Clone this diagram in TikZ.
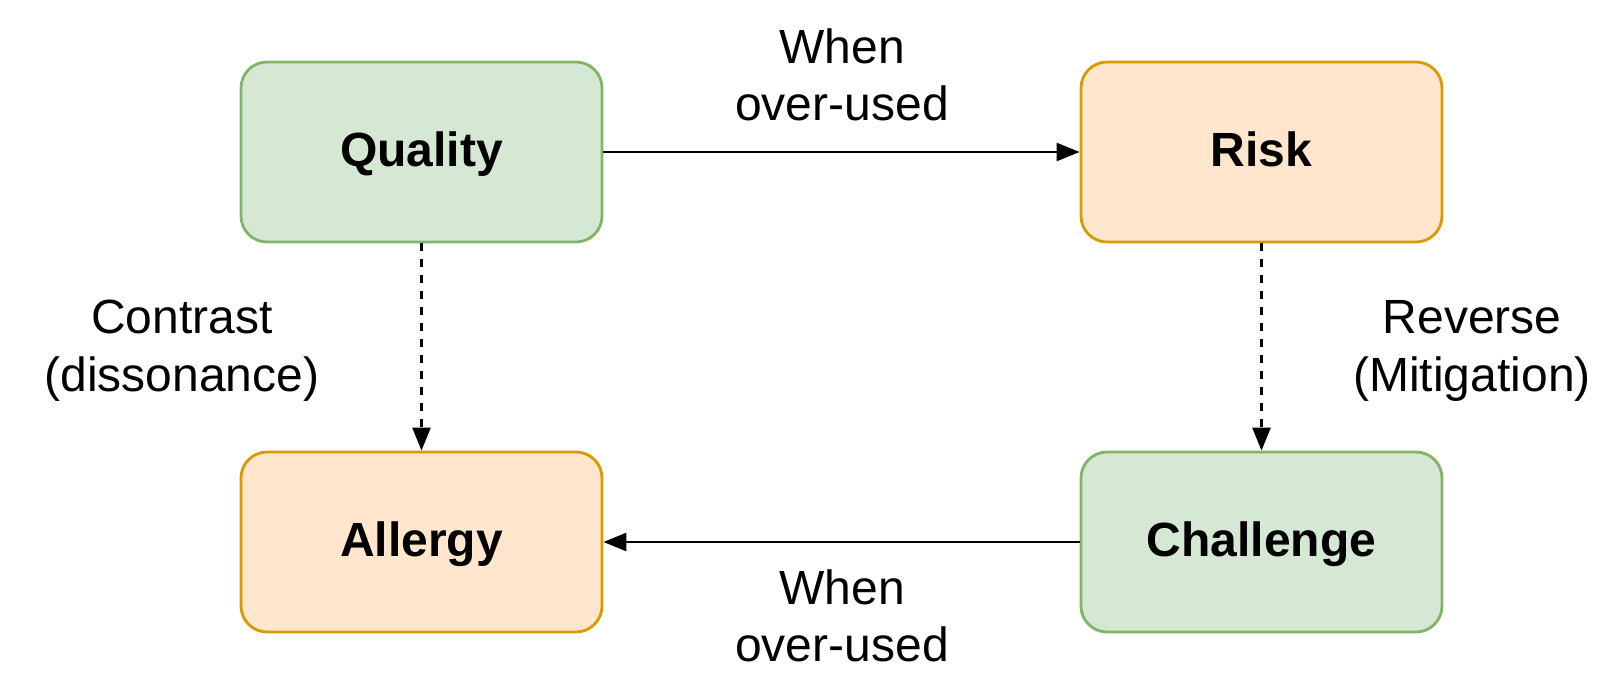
\documentclass[tikz,border=0pt]{standalone}
\usepackage{fontspec}
\setmainfont{Liberation Sans}
\usetikzlibrary{arrows.meta}
\definecolor{gfill}{HTML}{D5E8D4}
\definecolor{gline}{HTML}{82B366}
\definecolor{ofill}{HTML}{FFE6CC}
\definecolor{oline}{HTML}{D79B00}
\tikzset{
  box/.style={draw, line width=1.4pt, rounded corners=13pt, minimum width=180.5pt, minimum height=90pt, inner sep=0pt, text height=18pt, text depth=3.3pt, font=\fontsize{24}{28.8}\selectfont\bfseries},
  greenbox/.style={box, fill=gfill, draw=gline},
  orangebox/.style={box, fill=ofill, draw=oline},
  conn/.style={line width=1.3pt, -{Triangle[length=11.5pt,width=9pt]}},
  dconn/.style={conn, dash pattern=on 4pt off 4pt},
  lbl/.style={align=center, inner sep=0pt, font=\fontsize{24}{28.8}\selectfont}
}
\begin{document}
\begin{tikzpicture}[x=0.5pt,y=-0.5pt]
\useasboundingbox (0,0) rectangle (1620,690);
\node[greenbox] (q) at (421.5,152) {Quality};
\node[orangebox] (r) at (1261.5,152) {Risk};
\node[orangebox] (a) at (421.5,542) {Allergy};
\node[greenbox] (c) at (1261.5,542) {Challenge};
\draw[conn] (q) -- (r);
\draw[conn] (c) -- (a);
\draw[dconn] (q) -- (a);
\draw[dconn] (r) -- (c);
\node[lbl] (l1) at (842,75) {When\\over-used};
\node[lbl] (l2) at (842,616) {When\\over-used};
\node[lbl] (l3) at (182,351) {Contrast\\(dissonance)};
\node[lbl] (l4) at (1472,351) {Reverse\\(Mitigation)};
\end{tikzpicture}
\end{document}
